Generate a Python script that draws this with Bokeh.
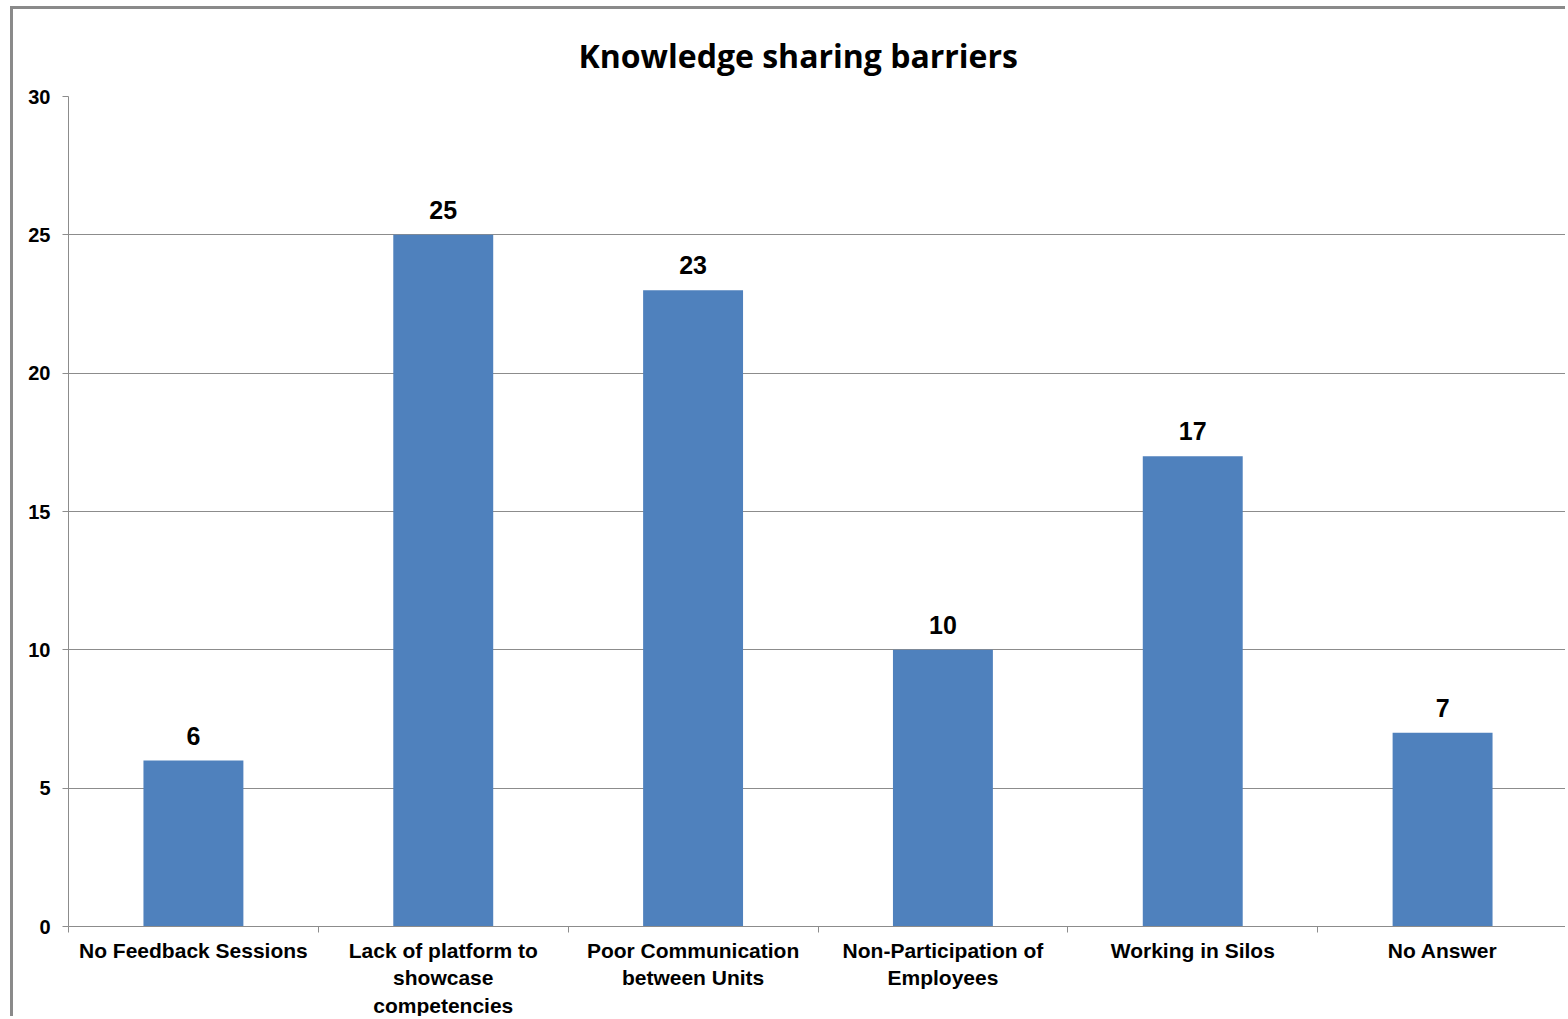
from bokeh.plotting import figure
from bokeh.models import ColumnDataSource, LinearAxis, Range1d, FixedTicker, LabelSet
from bokeh.core.properties import value
from bokeh.embed import file_html
from bokeh.resources import INLINE

categories = [
    "No Feedback Sessions",
    "Lack of platform to showcase competencies",
    "Poor Communication between Units",
    "Non-Participation of Employees",
    "Working in Silos",
    "No Answer",
]
counts = [6, 25, 23, 10, 17, 7]
tick_labels = [
    "No Feedback Sessions",
    "Lack of platform to\nshowcase\ncompetencies",
    "Poor Communication\nbetween Units",
    "Non-Participation of\nEmployees",
    "Working in Silos",
    "No Answer",
]
y_ticks = [0, 5, 10, 15, 20, 25, 30]
title_text = "Knowledge sharing barriers"

n = len(categories)
centers = [i + 0.5 for i in range(n)]
edges = list(range(n + 1))
src = ColumnDataSource(dict(x=centers, cat=categories, count=counts, label=[str(c) for c in counts]))

p = figure(
    x_range=Range1d(0, n),
    y_range=Range1d(0, 30),
    width=1555,
    height=1010,
    output_backend="svg",
    toolbar_location=None,
    x_axis_location=None,
    min_border_left=55,
    min_border_top=87,
    min_border_right=1,
    min_border_bottom=91,
)
p.styles = {
    "margin-left": "10px",
    "margin-top": "6px",
    "border-left": "3px solid #8a8a8a",
    "border-top": "3px solid #8a8a8a",
}
p.outline_line_color = None
p.background_fill_color = "white"
p.border_fill_color = "white"

p.title.text = title_text
p.title.align = "left"
p.title.text_font = "Open Sans"
p.title.text_font_style = "bold"
p.title.text_font_size = "32px"
p.title.text_color = "black"
p.title.standoff = 40
p.title.offset = 510

# grid
p.xgrid.grid_line_color = None
p.ygrid.ticker = FixedTicker(ticks=y_ticks)
p.ygrid.grid_line_color = "#8c8c8c"
p.ygrid.grid_line_width = 1

# y axis
yax = p.yaxis[0]
yax.ticker = FixedTicker(ticks=y_ticks)
yax.major_tick_out = 6
yax.major_tick_in = 0
yax.minor_tick_line_color = None
yax.major_tick_line_color = "#8c8c8c"
yax.axis_line_color = "#8c8c8c"
yax.major_label_standoff = 12
yax.major_label_text_font = "Liberation Sans"
yax.major_label_text_font_style = "bold"
yax.major_label_text_font_size = "20px"
yax.major_label_text_color = "black"

# x axis: labels at bar centres, tick marks at category boundaries
xax = LinearAxis(
    ticker=FixedTicker(ticks=centers, minor_ticks=edges),
    major_tick_out=0,
    major_tick_in=0,
    major_tick_line_color=None,
    minor_tick_out=6,
    minor_tick_in=0,
    minor_tick_line_color="#8c8c8c",
    axis_line_color="#8c8c8c",
    major_label_overrides=dict(zip(centers, tick_labels)),
    major_label_standoff=6,
    major_label_text_font="Liberation Sans",
    major_label_text_font_style="bold",
    major_label_text_font_size="21px",
    major_label_text_color="black",
    major_label_orientation="horizontal",
)
p.add_layout(xax, "below")

p.vbar(x="x", top="count", width=0.4, source=src, fill_color="#4F81BD", line_color=None)

labels = LabelSet(
    x="x", y="count", text="label", source=src,
    y_offset=16, text_align="center", text_baseline="alphabetic",
    text_font=value("Liberation Sans"), text_font_style="bold", text_font_size="25px",
    text_color="black",
)
p.add_layout(labels)

open("out.html", "w").write(file_html(p, INLINE))
